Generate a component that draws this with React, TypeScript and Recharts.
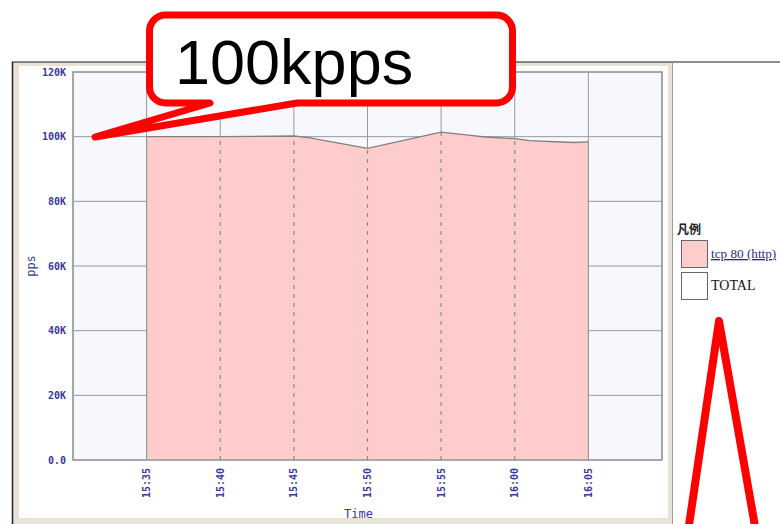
import React from "react";
import {
  AreaChart,
  Area,
  XAxis,
  YAxis,
  CartesianGrid,
  ReferenceLine,
  ReferenceArea,
  Label,
} from "recharts";

// ---------- data ----------
const times = ["15:35", "15:40", "15:45", "15:46", "15:50", "15:55", "15:57", "15:58", "16:00", "16:01", "16:04", "16:05"];
const ppsValues = [100000, 100000, 100200, 99700, 96400, 101400, 100400, 99900, 99400, 98800, 98200, 98400];
const xTickLabels = ["15:35", "15:40", "15:45", "15:50", "15:55", "16:00", "16:05"];
const xDomainLabels = ["15:30", "16:10"];
const yTickValues = [0, 20000, 40000, 60000, 80000, 100000, 120000];
const yTickLabels = ["0.0", "20K", "40K", "60K", "80K", "100K", "120K"];
const xTitle = "Time";
const yTitle = "pps";
const legendTitle = "凡例";
const legendItems = ["tcp 80 (http)", "TOTAL"];
const calloutText = "100kpps";

// ---------- helpers ----------
const toMin = (s: string) => {
  const [h, m] = s.split(":").map(Number);
  return h * 60 + m;
};
const data = times.map((t, i) => ({ t: toMin(t), v: ppsValues[i] }));
const xTicks = xTickLabels.map(toMin);
const valueAt = (label: string) => {
  const d = data.find((p) => p.t === toMin(label));
  return d ? d.v : 0;
};

const AXIS_COLOR = "#3a3a9c";
const MONO = "'DejaVu Sans Mono', monospace";
const GRID = "#9a9a9a";

const XTick = (props: any) => {
  const { x, y, payload } = props;
  const idx = xTicks.indexOf(payload.value);
  const label = idx >= 0 ? xTickLabels[idx] : "";
  return (
    <text
      x={x}
      y={y}
      transform={`rotate(-90 ${x} ${y})`}
      textAnchor="end"
      dy="0.35em"
      fontFamily={MONO}
      fontSize={10}
      fontWeight="bold"
      fill={AXIS_COLOR}
    >
      {label}
    </text>
  );
};

const YTick = (props: any) => {
  const { x, y, payload } = props;
  const idx = yTickValues.indexOf(payload.value);
  const label = idx >= 0 ? yTickLabels[idx] : "";
  return (
    <text
      x={x}
      y={y}
      textAnchor="end"
      dy="0.35em"
      fontFamily={MONO}
      fontSize={10}
      fontWeight="bold"
      fill={AXIS_COLOR}
    >
      {label}
    </text>
  );
};

const XTitle = (props: any) => {
  const vb = props.viewBox || { x: 73, y: 460, width: 589, height: 64 };
  const cx = vb.x + vb.width / 2 - 9;
  const cy = vb.y + vb.height - 10;
  return (
    <text x={cx} y={cy} textAnchor="middle" dy="0.35em" fontFamily={MONO} fontSize={12} fill={AXIS_COLOR}>
      {xTitle}
    </text>
  );
};

const YTitle = (props: any) => {
  const vb = props.viewBox || { x: 0, y: 72, width: 73, height: 388 };
  const cx = vb.x + 31;
  const cy = vb.y + vb.height / 2;
  return (
    <text
      x={cx}
      y={cy}
      transform={`rotate(-90 ${cx} ${cy})`}
      textAnchor="middle"
      dy="0.35em"
      fontFamily={MONO}
      fontSize={12}
      fill={AXIS_COLOR}
    >
      {yTitle}
    </text>
  );
};

export default function App() {
  const edgeTicks = [xTickLabels[0], xTickLabels[xTickLabels.length - 1]];
  const innerTicks = xTickLabels.slice(1, -1);
  return (
    <div style={{ position: "absolute", left: 0, top: 0, width: 780, height: 524, background: "#fff", overflow: "hidden" }}>
      {/* panel frame */}
      <svg width={780} height={524} style={{ position: "absolute", left: 0, top: 0 }}>
        <rect x={12} y={62} width={661} height={470} fill="#e9e2d6" />
        <rect x={19} y={66} width={649} height={452} fill="#ffffff" />
        <line x1={12} y1={62} x2={780} y2={62} stroke="#1a1a1a" strokeWidth={1.2} />
        <line x1={12.5} y1={62} x2={12.5} y2={524} stroke="#222" strokeWidth={1.5} />
        <line x1={672.5} y1={62} x2={672.5} y2={524} stroke="#a39d94" strokeWidth={1} />
      </svg>

      <div style={{ position: "absolute", left: 0, top: 0 }}>
        <AreaChart width={780} height={524} data={data} margin={{ top: 72, right: 118, bottom: 0, left: 0 }}>
          <CartesianGrid stroke={GRID} fill="#f7f8fe" fillOpacity={1} />
          <XAxis
            type="number"
            dataKey="t"
            domain={[toMin(xDomainLabels[0]), toMin(xDomainLabels[1])]}
            ticks={xTicks}
            interval={0}
            height={64}
            axisLine={false}
            tickLine={false}
            tickSize={0}
            tickMargin={8}
            tick={<XTick />}
            allowDataOverflow
          >
            <Label content={<XTitle />} />
          </XAxis>
          <YAxis
            type="number"
            domain={[0, 120000]}
            ticks={yTickValues}
            interval={0}
            width={73}
            axisLine={false}
            tickLine={false}
            tickSize={0}
            tickMargin={7}
            tick={<YTick />}
          >
            <Label content={<YTitle />} />
          </YAxis>
          <Area
            type="linear"
            dataKey="v"
            stroke="#808080"
            strokeWidth={1.3}
            fill="#ffcccc"
            fillOpacity={1}
            isAnimationActive={false}
            dot={false}
            activeDot={false}
          />
          {edgeTicks.map((lab) => (
            <ReferenceLine
              key={"e" + lab}
              segment={[
                { x: toMin(lab), y: 0 },
                { x: toMin(lab), y: valueAt(lab) },
              ]}
              stroke={GRID}
              strokeWidth={1.2}
              ifOverflow="visible"
            />
          ))}
          {innerTicks.map((lab) => (
            <ReferenceLine
              key={"i" + lab}
              segment={[
                { x: toMin(lab), y: 0 },
                { x: toMin(lab), y: valueAt(lab) },
              ]}
              stroke="#8a8a8a"
              strokeWidth={1.2}
              strokeDasharray="4 5"
              ifOverflow="visible"
            />
          ))}
          <ReferenceArea
            x1={toMin(xDomainLabels[0])}
            x2={toMin(xDomainLabels[1])}
            y1={0}
            y2={120000}
            fill="none"
            fillOpacity={0}
            stroke={GRID}
            strokeWidth={1.5}
            ifOverflow="visible"
          />
        </AreaChart>
      </div>

      {/* legend + annotations */}
      <svg width={780} height={524} style={{ position: "absolute", left: 0, top: 0 }}>
        <text x={677} y={234} fontFamily="'Noto Sans CJK JP', sans-serif" fontSize={12} fontWeight="bold" fill="#222">
          {legendTitle}
        </text>
        <rect x={681.5} y={240.5} width={26} height={27} fill="#ffcccc" stroke="#666" strokeWidth={1} />
        <text
          x={711}
          y={258}
          fontFamily="'Liberation Serif', serif"
          fontSize={13.2}
          fill="#2b2b8f"
          textDecoration="underline"
          style={{ textDecoration: "underline" }}
        >
          {legendItems[0]}
        </text>
        <rect x={681.5} y={272.5} width={26} height={27} fill="#ffffff" stroke="#666" strokeWidth={1} />
        <text x={711} y={290} fontFamily="'Liberation Serif', serif" fontSize={14} fill="#111">
          {legendItems[1]}
        </text>

        {/* callout */}
        <path
          d="M 210 103 L 165.5 103 A 16 16 0 0 1 149.5 87 L 149.5 31 A 16 16 0 0 1 165.5 15 L 496.5 15 A 16 16 0 0 1 512.5 31 L 512.5 87 A 16 16 0 0 1 496.5 103 L 297 103 L 95 137 Z"
          fill="#ffffff"
          stroke="#ff0000"
          strokeWidth={7}
          strokeLinejoin="round"
        />
        <text x={175} y={84} fontFamily="'Liberation Sans', Arial, sans-serif" fontSize={63} fill="#000">
          {calloutText}
        </text>

        {/* pointer triangle */}
        <path d="M 688 532 L 719 321 L 756 532" fill="none" stroke="#ff0000" strokeWidth={8} strokeLinejoin="round" />
      </svg>
    </div>
  );
}
